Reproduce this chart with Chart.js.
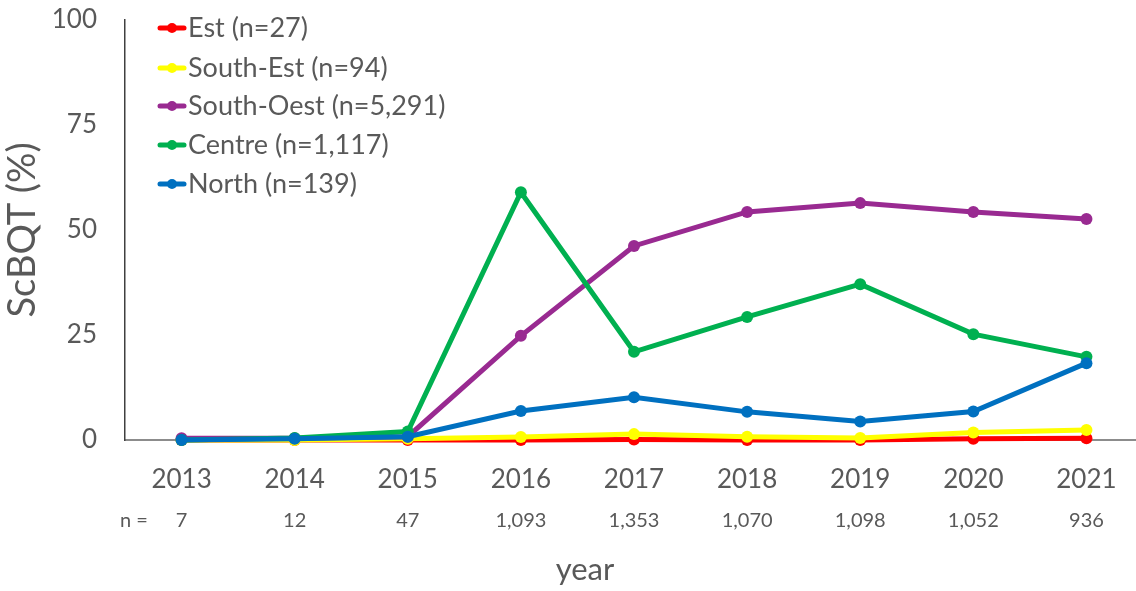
<!DOCTYPE html>
<html>
<head>
<meta charset="utf-8">
<script src="https://cdn.jsdelivr.net/npm/chart.js@4"></script>
<style>
  html, body { margin: 0; padding: 0; background: #fff; }
  #wrap { width: 1136px; height: 591px; }
</style>
</head>
<body>
<div id="wrap"><canvas id="chart" width="1136" height="591"></canvas></div>
<script>
const years = ['2013', '2014', '2015', '2016', '2017', '2018', '2019', '2020', '2021'];
const nCounts = ['7', '12', '47', '1,093', '1,353', '1,070', '1,098', '1,052', '936'];
const yTicks = [0, 25, 50, 75, 100];

const seriesNames = ['Est (n=27)', 'South-Est (n=94)', 'South-Oest (n=5,291)', 'Centre (n=1,117)', 'North (n=139)'];
const seriesColors = ['#FF0000', '#FFFF00', '#992A91', '#00B050', '#0070C0'];

const est = [0, 0, 0, 0, 0.1, 0, 0, 0.3, 0.4];
const southEst = [0, 0, 0.3, 0.7, 1.4, 0.8, 0.5, 1.8, 2.4];
const southOest = [0.4, 0.4, 0.8, 24.8, 46.2, 54.3, 56.4, 54.3, 52.6];
const centre = [0, 0.5, 2.0, 59.0, 21.0, 29.3, 37.1, 25.2, 19.8];
const north = [0, 0.3, 0.8, 6.9, 10.2, 6.7, 4.4, 6.8, 18.3];

const allSeries = [est, southEst, southOest, centre, north];

const FONT = 'Lato, "Open Sans", sans-serif';
const TEXT = '#595959';

// the excel axis runs a little past the canvas edge on the right
const overhangPlugin = {
  id: 'overhang',
  afterLayout(chart) {
    const x = chart.scales.x;
    x.right += 7;
    x.width += 7;
    x.configure();
  }
};

// legend drawn inside the plot, top-left
const legendPlugin = {
  id: 'insideLegend',
  afterDraw(chart) {
    const ctx = chart.ctx;
    const rows = [28, 68, 106, 145, 184];
    ctx.save();
    seriesNames.forEach((name, i) => {
      const y = rows[i];
      ctx.strokeStyle = seriesColors[i];
      ctx.fillStyle = seriesColors[i];
      ctx.lineWidth = 5;
      ctx.lineCap = 'round';
      ctx.beginPath();
      ctx.moveTo(160, y);
      ctx.lineTo(184, y);
      ctx.stroke();
      ctx.beginPath();
      ctx.arc(172, y, 5, 0, Math.PI * 2);
      ctx.fill();
      ctx.fillStyle = TEXT;
      ctx.font = '27px ' + FONT;
      ctx.textBaseline = 'middle';
      ctx.textAlign = 'left';
      ctx.fillText(name, 188, y);
    });
    ctx.restore();
  }
};

// sample sizes under the years, plus the x title
const nRowPlugin = {
  id: 'nRow',
  afterDraw(chart) {
    const ctx = chart.ctx;
    const x = chart.scales.x;
    ctx.save();
    ctx.fillStyle = TEXT;
    ctx.font = '20px ' + FONT;
    ctx.textBaseline = 'middle';
    ctx.textAlign = 'center';
    ctx.fillText('n =', 134, 521);
    nCounts.forEach((c, i) => {
      ctx.fillText(c, x.getPixelForValue(i), 521);
    });
    ctx.font = '31px ' + FONT;
    ctx.fillText('year', 585, 570);
    ctx.restore();
  }
};

new Chart(document.getElementById('chart').getContext('2d'), {
  type: 'line',
  data: {
    labels: years,
    datasets: allSeries.map((d, i) => ({
      label: seriesNames[i],
      data: d,
      borderColor: seriesColors[i],
      backgroundColor: seriesColors[i],
      borderWidth: 5,
      pointRadius: 6,
      pointHoverRadius: 6,
      pointBorderWidth: 0,
      tension: 0,
      clip: false,
      order: allSeries.length - i,
    })),
  },
  options: {
    responsive: false,
    animation: false,
    layout: { autoPadding: false, padding: { top: 20, right: 0, left: 0, bottom: 0 } },
    plugins: {
      legend: { display: false },
      tooltip: { enabled: false },
    },
    scales: {
      x: {
        offset: true,
        grid: { display: false, drawTicks: false },
        border: { display: true, color: '#8C8C8C', width: 2 },
        ticks: { color: TEXT, font: { family: FONT, size: 26 }, padding: 24 },
        afterFit(scale) {
          scale.height = 151;
          scale.paddingLeft = 0;
          scale.paddingRight = 0;
        },
      },
      y: {
        min: 0,
        max: 100,
        afterBuildTicks(scale) { scale.ticks = yTicks.map(v => ({ value: v })); },
        grid: { display: false, drawTicks: false },
        border: { display: true, color: '#404040', width: 1.5 },
        ticks: { color: TEXT, font: { family: FONT, size: 26 }, padding: 28 },
        title: {
          display: true,
          text: 'ScBQT (%)',
          color: TEXT,
          font: { family: FONT, size: 38 },
          padding: { top: 0, bottom: 0 },
        },
        afterFit(scale) {
          scale.width = 125;
          scale.paddingTop = 0;
          scale.paddingBottom = 0;
        },
      },
    },
  },
  plugins: [overhangPlugin, legendPlugin, nRowPlugin],
});
</script>
</body>
</html>
